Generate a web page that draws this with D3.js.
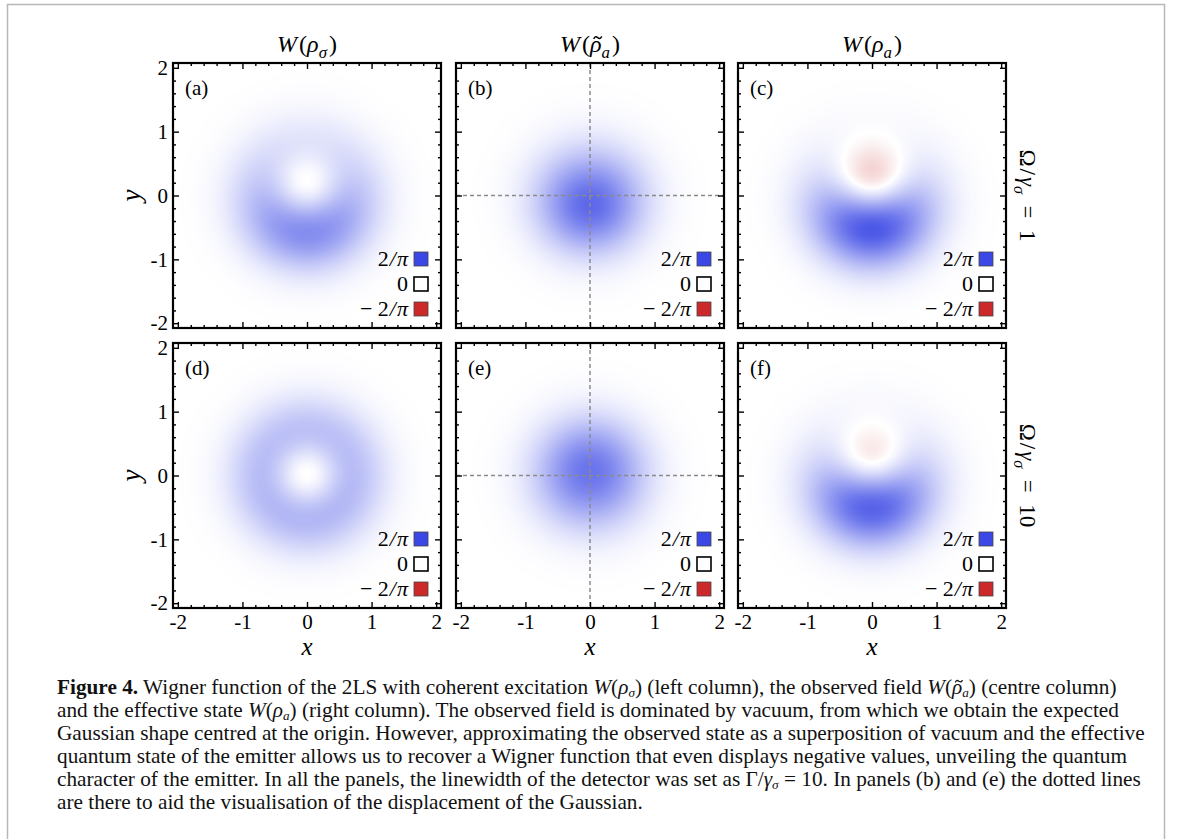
<!DOCTYPE html>
<html><head><meta charset="utf-8">
<script src="https://cdn.jsdelivr.net/npm/d3@7"></script>
<style>body{margin:0;background:#fff}svg{display:block}</style>
</head><body>
<svg id="fig" width="1181" height="839"></svg>
<script>
// ---------------- data ----------------
const panelLabels = ["(a)", "(b)", "(c)", "(d)", "(e)", "(f)"];
// state parameters (Fock basis {|0>,|1>}):
const excitedPopulation = [0.444, 0.10, 0.403, 0.50, 0.12, 0.373];
const coherenceIm       = [0.222, 0.09, 0.452, 0.025, -0.03, 0.392];
const dashedGuides      = [false, true, false, false, true, false];
const majorTicks = [-2, -1, 0, 1, 2];
const minorTicks = [-1.8,-1.6,-1.4,-1.2,-0.8,-0.6,-0.4,-0.2,0.2,0.4,0.6,0.8,1.2,1.4,1.6,1.8];
const legendLabels = ["2/π", "0", "−2/π"];
const legendValues = [2/Math.PI, 0, -2/Math.PI];
const rowValues = ["1", "10"];

// ---------------- layout ----------------
const svg = d3.select("#fig");
const SERIF = "'Liberation Serif','Times New Roman',serif";
const colLeft = [173, 456, 738], rowTop = [63, 343];
const PW = 268, PH = 265;
const DOM = 2.075;
const BLUE = "#3b48e5", RED = "#cc2a2a";

const colorT = d3.scaleLinear().domain([-2/Math.PI, 0, 2/Math.PI]).range([-1, 0, 1]).clamp(true);
const cBlue = d3.rgb(BLUE), cRed = d3.rgb(RED);

function wigner(i, xv, yv) {
  const r2 = xv*xv + yv*yv, p = excitedPopulation[i], b = coherenceIm[i];
  return (2/Math.PI) * Math.exp(-2*r2) * ((1 - 2*p) + 4*p*r2 - 4*b*yv);
}

// outer page border
svg.append("path").attr("d", "M7.5,845V4.5H1164.5V845")
  .attr("fill", "none").attr("stroke", "#b8b8b8").attr("stroke-width", 1.5);

// rich text helper
function rich(sel, segs, size, subShift, subSize) {
  const sh = size * (subShift || 0.25), ss = size * (subSize || 0.7);
  let shifted = false;
  segs.forEach(s => {
    const ts = sel.append("tspan").text(s.t);
    if (s.i) ts.attr("font-style", "italic");
    if (s.b) ts.attr("font-weight", "bold");
    if (s.dx) ts.attr("dx", s.dx);
    if (s.sub) {
      ts.attr("font-size", ss);
      if (!shifted) { ts.attr("dy", sh); shifted = true; }
    } else if (shifted) { ts.attr("dy", -sh); shifted = false; }
  });
  return sel;
}
// draw a tilde accent (as a small curve) over the character at index idx of a text element
const tildeLine = d3.line().curve(d3.curveBasis);
function tildeOver(textSel, idx, size, color) {
  const ext = textSel.node().getExtentOfChar(idx);
  const base = +textSel.attr("y");
  const cx = ext.x + ext.width/2 + size*0.08, cy = base - size*0.6;
  const w = size*0.34, a = size*0.055;
  svg.append("path")
    .attr("d", tildeLine([[cx - w/2, cy + a], [cx - w/4, cy - a*1.6], [cx + w/4, cy + a*1.6], [cx + w/2, cy - a]]))
    .attr("fill", "none").attr("stroke", color).attr("stroke-width", Math.max(1, size*0.06));
}
const Wsig = [{t:"W",i:1},{t:"("},{t:"ρ",i:1},{t:"σ",i:1,sub:1},{t:")"}];
const Wtil = [{t:"W",i:1},{t:"("},{t:"ρ",i:1},{t:"a",i:1,sub:1},{t:")"}];
const Wa   = [{t:"W",i:1},{t:"("},{t:"ρ",i:1},{t:"a",i:1,sub:1},{t:")"}];
const colTitles = [Wsig, Wtil, Wa];

// ---------------- panels ----------------
for (let r = 0; r < 2; r++) for (let c = 0; c < 3; c++) {
  const i = r*3 + c;
  const x0 = colLeft[c], y0 = rowTop[r];
  const x = d3.scaleLinear().domain([-DOM, DOM]).range([x0, x0 + PW]);
  const y = d3.scaleLinear().domain([-DOM, DOM]).range([y0 + PH, y0]);

  // density image
  const cv = document.createElement("canvas");
  cv.width = PW; cv.height = PH;
  const ctx = cv.getContext("2d");
  const img = ctx.createImageData(PW, PH);
  for (let py = 0; py < PH; py++) {
    const yv = y.invert(y0 + py + 0.5);
    for (let px = 0; px < PW; px++) {
      const xv = x.invert(x0 + px + 0.5);
      const t = colorT(wigner(i, xv, yv));
      const e = t >= 0 ? cBlue : cRed, a = Math.abs(t);
      const k = (py*PW + px)*4;
      img.data[k]   = 255 + (e.r - 255)*a;
      img.data[k+1] = 255 + (e.g - 255)*a;
      img.data[k+2] = 255 + (e.b - 255)*a;
      img.data[k+3] = 255;
    }
  }
  ctx.putImageData(img, 0, 0);
  svg.append("image").attr("x", x0).attr("y", y0).attr("width", PW).attr("height", PH)
    .attr("preserveAspectRatio", "none").attr("href", cv.toDataURL());

  if (dashedGuides[i]) {
    const g = svg.append("g").attr("stroke", "#8a8a8a").attr("stroke-width", 1.5).attr("stroke-dasharray", "4,3");
    g.append("line").attr("x1", x(0)).attr("x2", x(0)).attr("y1", y0).attr("y2", y0 + PH);
    g.append("line").attr("x1", x0).attr("x2", x0 + PW).attr("y1", y(0)).attr("y2", y(0));
  }

  // axes (inward ticks on all sides)
  const fmt = d => String(d);
  const mk = (axisFn, scale, pos, showLabels) => {
    const gMaj = svg.append("g").attr("transform", pos)
      .call(axisFn(scale).tickValues(majorTicks).tickSize(-6).tickPadding(axisFn === d3.axisLeft ? 5 : 6)
        .tickFormat(showLabels ? fmt : ""));
    const gMin = svg.append("g").attr("transform", pos)
      .call(axisFn(scale).tickValues(minorTicks).tickSize(-3).tickFormat(""));
    [gMaj, gMin].forEach(g => {
      g.select(".domain").remove();
      g.selectAll("line").attr("stroke", "#000").attr("stroke-width", 1.4);
      g.selectAll("text").attr("font-family", SERIF).attr("font-size", 21).attr("fill", "#000");
    });
  };
  mk(d3.axisBottom, x, `translate(0,${y0 + PH})`, r === 1);
  mk(d3.axisTop, x, `translate(0,${y0})`, false);
  mk(d3.axisLeft, y, `translate(${x0},0)`, c === 0);
  mk(d3.axisRight, y, `translate(${x0 + PW},0)`, false);

  // frame
  svg.append("rect").attr("x", x0).attr("y", y0).attr("width", PW).attr("height", PH)
    .attr("fill", "none").attr("stroke", "#000").attr("stroke-width", 2.2);

  // panel label
  svg.append("text").attr("x", x0 + 12).attr("y", y0 + 32).attr("font-family", SERIF)
    .attr("font-size", 21).text(panelLabels[i]);

  // legend
  const legColor = d3.scaleLinear().domain([-2/Math.PI, 0, 2/Math.PI]).range([RED, "#ffffff", BLUE]);
  legendLabels.forEach((lab, j) => {
    const sy = y0 + PH - 76 + j*25;
    svg.append("rect").attr("x", x0 + PW - 27).attr("y", sy).attr("width", 14).attr("height", 14)
      .attr("fill", legColor(legendValues[j])).attr("stroke", j === 1 ? "#000" : "#444")
      .attr("stroke-width", j === 1 ? 1.6 : 0.8);
    const t = svg.append("text").attr("x", x0 + PW - 33).attr("y", sy + 14)
      .attr("text-anchor", "end").attr("font-family", SERIF).attr("font-size", 22);
    if (j === 1) t.text(lab);
    else {
      if (j === 2) t.append("tspan").text("− ");
      t.append("tspan").text("2");
      t.append("tspan").attr("font-style", "italic").attr("dx", 1).text("/");
      t.append("tspan").attr("font-style", "italic").attr("dx", 1).text("π");
    }
  });

  // column titles
  if (r === 0) {
    const tt = rich(svg.append("text").attr("x", x0 + PW/2).attr("y", 52).attr("text-anchor", "middle")
      .attr("font-family", SERIF).attr("font-size", 24).attr("fill", "#000"),
      colTitles[c].map((s, k) => k === 1 || k === 4 ? Object.assign({}, s, {dx: 2}) : s), 24);
    if (c === 1) tildeOver(tt, 2, 24, "#000");
  }
  // x label
  if (r === 1) {
    svg.append("text").attr("x", x(0)).attr("y", 655).attr("text-anchor", "middle")
      .attr("font-family", SERIF).attr("font-size", 25).attr("font-style", "italic").text("x");
  }
  // y label
  if (c === 0) {
    svg.append("text").attr("transform", `translate(140,${y(0)}) rotate(-90)`).attr("text-anchor", "middle")
      .attr("font-family", SERIF).attr("font-size", 27).attr("font-style", "italic").text("y");
  }
  // row label
  if (c === 2) {
    rich(svg.append("text").attr("transform", `translate(1020,${y0 + PH/2}) rotate(90)`)
      .attr("text-anchor", "middle").attr("font-family", SERIF).attr("font-size", 23),
      [{t:"Ω"},{t:"/",dx:2},{t:"γ",i:1,dx:2},{t:"σ",i:1,sub:1},{t:"\u2002=\u2002" + rowValues[r]}], 23);
  }
}

// ---------------- caption ----------------
const capLines = [
  [{t:"Figure 4.",b:1},{t:" Wigner function of the 2LS with coherent excitation "},...Wsig,{t:" (left column), the observed field "},...Wtil,{t:" (centre column)"}],
  [{t:"and the effective state "},...Wa,{t:" (right column). The observed field is dominated by vacuum, from which we obtain the expected"}],
  [{t:"Gaussian shape centred at the origin. However, approximating the observed state as a superposition of vacuum and the effective"}],
  [{t:"quantum state of the emitter allows us to recover a Wigner function that even displays negative values, unveiling the quantum"}],
  [{t:"character of the emitter. In all the panels, the linewidth of the detector was set as Γ/"},{t:"γ",i:1},{t:"σ",i:1,sub:1},{t:" = 10. In panels (b) and (e) the dotted lines"}],
  [{t:"are there to aid the visualisation of the displacement of the Gaussian."}]
];
let capSize = 18;
const capTexts = capLines.map((segs, k) =>
  rich(svg.append("text").attr("x", 57).attr("y", 694 + k*23).attr("font-family", SERIF)
    .attr("font-size", capSize).attr("fill", "#111"), segs, capSize, 0.12, 0.62));
const w1 = capTexts[0].node().getComputedTextLength();
capSize = capSize * 1060 / w1;
capTexts.forEach((t, k) => { t.selectAll("*").remove(); rich(t.attr("font-size", capSize), capLines[k], capSize, 0.12, 0.62); });
// tilde over the second rho of the first caption line
const l1 = capTexts[0].node().textContent;
tildeOver(capTexts[0], l1.lastIndexOf("ρ"), capSize, "#111");
</script></body></html>
